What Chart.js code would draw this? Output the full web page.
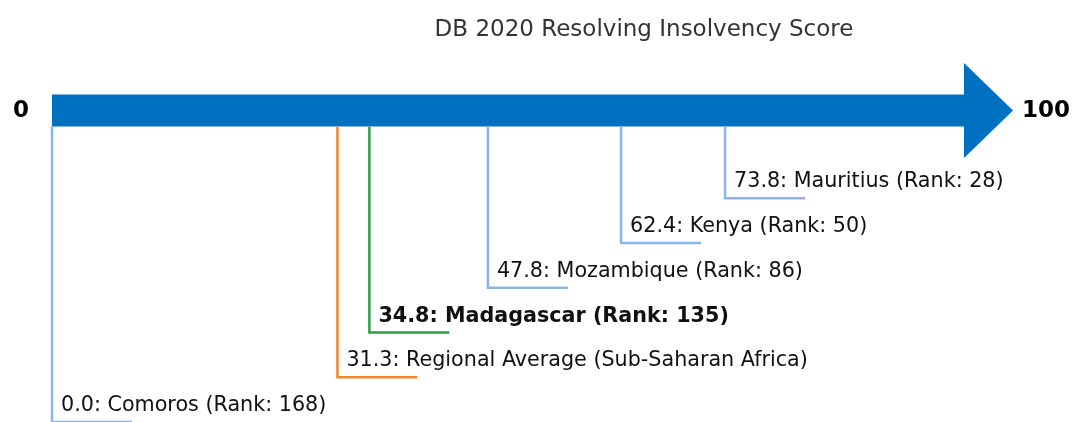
<!DOCTYPE html>
<html>
<head>
<meta charset="utf-8">
<title>DB 2020 Resolving Insolvency Score</title>
<script src="https://cdn.jsdelivr.net/npm/chart.js@4/dist/chart.umd.min.js"></script>
<style>
  html, body { margin: 0; padding: 0; background: #fff; }
  canvas { display: block; }
</style>
</head>
<body>
<canvas id="scoreChart" width="1072" height="422"></canvas>
<script>
// economies and their DB 2020 resolving insolvency scores
const names = ['Comoros', 'Regional Average (Sub-Saharan Africa)', 'Madagascar', 'Mozambique', 'Kenya', 'Mauritius'];
const scores = [0.0, 31.3, 34.8, 47.8, 62.4, 73.8];
const ranks = [168, null, 135, 86, 50, 28];
// label row, counted down from the arrow
const rows = [6, 5, 4, 3, 2, 1];
const kinds = ['peer', 'region', 'focus', 'peer', 'peer', 'peer'];
const axisMin = 0;
const axisMax = 100;
const axisLabels = ['0', '100'];
const chartTitle = 'DB 2020 Resolving Insolvency Score';

const FONT = '"DejaVu Sans", Verdana, sans-serif';
const colors = { peer: '#8cb4ea', region: '#f2862e', focus: '#2ca04c' };
const arrowBlue = '#0070c0';

const arrowPlugin = {
    id: 'scoreArrow',
    afterDatasetsDraw(chart) {
        const ctx = chart.ctx;
        const x = chart.scales.x;
        const area = chart.chartArea;
        const meta = chart.getDatasetMeta(0);

        const cy = area.top + 46.5;
        const bodyHalf = 16;
        const headHalf = 47.5;
        const headLen = 49;
        const x0 = x.getPixelForValue(axisMin);
        const x1 = x.getPixelForValue(axisMax);

        ctx.save();
        // title
        ctx.fillStyle = '#333';
        ctx.font = '23px ' + FONT;
        ctx.textAlign = 'center';
        ctx.textBaseline = 'alphabetic';
        ctx.fillText(chartTitle, 644, 36);

        // arrow body and head
        ctx.fillStyle = arrowBlue;
        ctx.beginPath();
        ctx.moveTo(x0, cy - bodyHalf);
        ctx.lineTo(x1, cy - bodyHalf);
        ctx.lineTo(x1, cy - headHalf);
        ctx.lineTo(x1 + headLen, cy);
        ctx.lineTo(x1, cy + headHalf);
        ctx.lineTo(x1, cy + bodyHalf);
        ctx.lineTo(x0, cy + bodyHalf);
        ctx.closePath();
        ctx.fill();

        // end labels
        ctx.fillStyle = '#000';
        ctx.font = 'bold 23px ' + FONT;
        ctx.textBaseline = 'middle';
        ctx.textAlign = 'center';
        ctx.fillText(axisLabels[0], x0 - 31, cy + 1);
        ctx.textAlign = 'left';
        ctx.fillText(axisLabels[1], x1 + headLen + 9, cy + 1);

        // leaders and value labels
        ctx.lineWidth = 2.5;
        ctx.textBaseline = 'alphabetic';
        meta.data.forEach((pt, i) => {
            const kind = kinds[i];
            ctx.strokeStyle = colors[kind];
            ctx.beginPath();
            ctx.moveTo(pt.x, cy + bodyHalf);
            ctx.lineTo(pt.x, pt.y);
            ctx.lineTo(pt.x + 80, pt.y);
            ctx.stroke();

            let text = scores[i].toFixed(1) + ': ' + names[i];
            if (ranks[i] !== null) text += ' (Rank: ' + ranks[i] + ')';
            ctx.fillStyle = '#111';
            ctx.font = (kind === 'focus' ? 'bold ' : '') + '20.7px ' + FONT;
            ctx.fillText(text, pt.x + 9, pt.y - 11);
        });
        ctx.restore();
    }
};

new Chart(document.getElementById('scoreChart'), {
    type: 'scatter',
    data: {
        datasets: [{
            label: chartTitle,
            data: scores.map((s, i) => ({ x: s, y: rows[i] })),
            pointRadius: 0,
            showLine: false
        }]
    },
    options: {
        responsive: false,
        animation: false,
        layout: { padding: { left: 52, right: 108, top: 64, bottom: 0 } },
        scales: {
            x: { type: 'linear', min: axisMin, max: axisMax, display: false },
            y: { type: 'linear', min: -2, max: 6, reverse: true, display: false }
        },
        plugins: {
            legend: { display: false },
            tooltip: { enabled: false }
        }
    },
    plugins: [arrowPlugin]
});
</script>
</body>
</html>
